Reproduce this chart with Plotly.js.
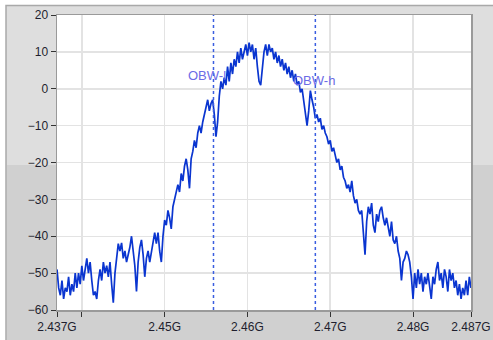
<!DOCTYPE html>
<html><head><meta charset="utf-8">
<script src="https://cdn.plot.ly/plotly-3.0.1.min.js"></script>
<style>html,body{margin:0;padding:0;background:#fff;}#chart{width:493px;height:340px;}</style>
</head><body><div id="chart"></div>
<script>
// Sweep definition (GHz)
var freqStart = 2.437;
var freqStep = 0.0002;
// Measured power (dB) for each sweep point
var powerDb = [
-49,-54,-56,-52,-57,-54,-55,-51,-56,-53,
-55,-50,-54,-50,-53,-48,-52,-49,-46,-50,
-47,-52,-56,-55,-57,-52,-49,-52,-47,-50,
-48,-51,-47,-53,-58,-50,-45,-42,-44,-41.8,
-46,-44,-47,-45,-43,-40,-44,-48,-55,-47,
-43,-41,-45,-51,-46,-44,-47,-44,-41,-39,
-42,-39,-44,-47,-40,-35.6,-37,-33,-35,-38,
-32,-30,-28,-26,-28,-23,-25,-21,-19,-22,
-27,-19,-17,-14,-16,-12,-10,-12,-9,-7,
-5,-3,-6,-4,-3,-7,-13,-9,-2,2,
0,3,1,6,2,7,4,8,6,10,
7,11,8,10,12,9,12.5,10,12,8,
11,6,2,1,5,10,12,9,12,10,
11,8,10,7,9,6,8,5,7,4,
6,3,5,2,4,1,2,-1,0,-3,
-6,-10,-6,-0.5,-3,-5,-8,-7,-9,-8,
-11,-10,-12,-13,-15,-14,-17,-16,-18,-20,
-19,-22,-21,-24,-25,-27,-26,-28,-25,-29,
-31,-30,-33,-34,-33,-38,-45,-36,-32,-34,
-31,-37,-39,-34,-36,-33,-32,-35,-37,-35,
-38,-40,-36,-41,-42,-40,-44,-46,-52,-47,
-46,-44,-45,-47,-51,-57,-50,-54,-49,-53,
-50,-55,-51,-53,-50,-54,-57,-51,-53,-49,
-47,-52,-50,-54,-49,-51,-55,-49,-52,-50,
-54,-52,-56,-53,-57,-54,-56,-52,-56,-51,
-54
];
// Occupied bandwidth markers
var obwNames = ['OBW-l', 'OBW-h'];
var obwFreq = [2.4559, 2.4682];
// Axis ticks
var xTickVals = [2.437, 2.44, 2.45, 2.46, 2.47, 2.48, 2.487];
var xTickText = ['2.437G', '', '2.45G', '2.46G', '2.47G', '2.48G', '2.487G'];
var yTickVals = [-60, -50, -40, -30, -20, -10, 0, 10, 20];

var W = 493, H = 340, ml = 57, mr = 22, mt = 15, mb = 30;
var pw = W - ml - mr, ph = H - mt - mb;
function px(x){ return (x - ml) / pw; }
function py(y){ return (H - mb - y) / ph; }

var shapes = [
  {type:'rect', xref:'paper', yref:'paper', x0:px(6), x1:px(500), y0:py(5.5), y1:py(350),
   fillcolor:'#dedede', line:{color:'#a9a9a9', width:1.5}, layer:'below'},
  {type:'rect', xref:'paper', yref:'paper', x0:px(7), x1:px(500), y0:py(165), y1:py(350),
   fillcolor:'#d0d0d0', line:{width:0}, layer:'below'},
  {type:'rect', xref:'paper', yref:'paper', x0:0, x1:1, y0:0, y1:1,
   fillcolor:'#ffffff', line:{width:0}, layer:'below'}
];
obwFreq.forEach(function(f){
  shapes.push({type:'line', xref:'x', yref:'paper', x0:f, x1:f, y0:0, y1:1,
    line:{color:'#3a5ee0', width:1.5, dash:'dot'}});
});

var annotations = [
  {x:obwFreq[0], y:3.7, xref:'x', yref:'y', text:obwNames[0], showarrow:false,
   xanchor:'center', xshift:-6, font:{family:'Liberation Sans, Arial', size:13, color:'#6b6be6'}},
  {x:obwFreq[1], y:2.3, xref:'x', yref:'y', text:obwNames[1], showarrow:false,
   xanchor:'center', xshift:-1, font:{family:'Liberation Sans, Arial', size:13, color:'#6b6be6'}}
];

var trace = {
  type:'scatter', mode:'lines', x0:freqStart, dx:freqStep, y:powerDb,
  line:{color:'#0a35d0', width:1.7}, hoverinfo:'skip'
};

var layout = {
  width:W, height:H,
  margin:{l:ml, r:mr, t:mt, b:mb, pad:0},
  paper_bgcolor:'#ffffff', plot_bgcolor:'#ffffff',
  showlegend:false,
  font:{family:'Liberation Sans, Arial', size:12, color:'#1e1e2e'},
  xaxis:{range:[2.437, 2.487], tickvals:xTickVals, ticktext:xTickText,
    showgrid:true, gridcolor:'#e3e3e3', gridwidth:1.5, zeroline:false,
    showline:true, mirror:true, linecolor:'#9a9a9a', linewidth:1.5,
    ticks:'outside', ticklen:5, tickcolor:'#333', tickwidth:1},
  yaxis:{range:[-60, 20], tickvals:yTickVals,
    showgrid:true, gridcolor:'#e3e3e3', gridwidth:1.5, zeroline:false,
    showline:true, mirror:true, linecolor:'#9a9a9a', linewidth:1.5,
    ticks:'outside', ticklen:5, tickcolor:'#333', tickwidth:1},
  shapes:shapes, annotations:annotations
};

Plotly.newPlot('chart', [trace], layout, {staticPlot:true, displayModeBar:false});
</script></body></html>
